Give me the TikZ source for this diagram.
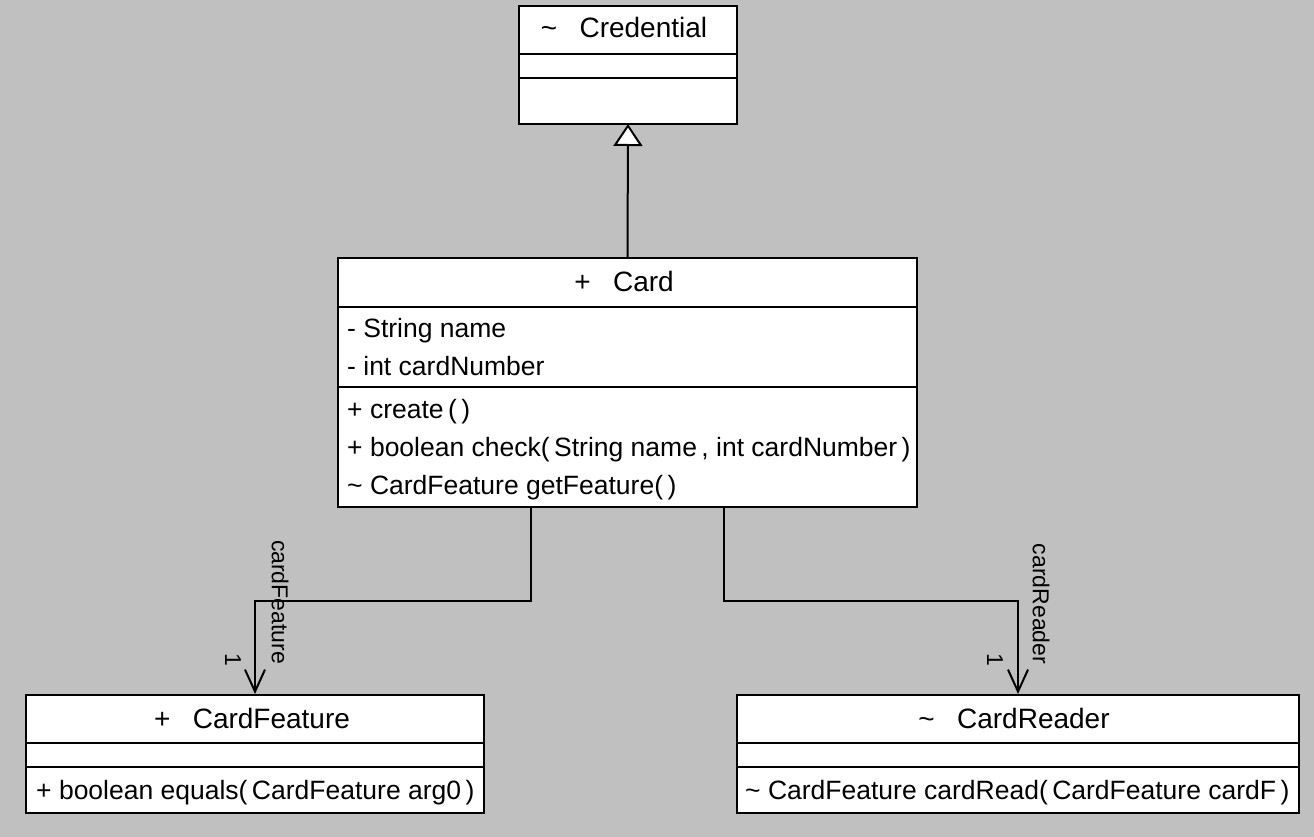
\documentclass[tikz,border=0pt]{standalone}
\usepackage{fontspec}
\setmainfont{Liberation Sans}
\usetikzlibrary{arrows.meta}
\definecolor{canvas}{RGB}{192,192,192}

\begin{document}
\begin{tikzpicture}[x=1pt, y=-1pt]
    % Define styles
    \tikzstyle{classbox}=[draw, line width=2pt, fill=white, inner sep=0pt]
    \tikzstyle{divider}=[line width=2pt]
    \tikzstyle{classname}=[inner sep=0pt, anchor=base, font=\fontsize{28}{32}\selectfont]
    \tikzstyle{member}=[inner sep=0pt, anchor=base west, font=\fontsize{26.5}{30}\selectfont]
    \tikzstyle{role}=[inner sep=0pt, rotate=-90, font=\fontsize{23}{27}\selectfont]
    \tikzstyle{assoc}=[line width=2pt, -{Straight Barb[length=22pt, width=20pt]}]
    \tikzstyle{inherit}=[line width=2pt, -{Triangle[length=22pt, width=29pt, fill=white]}, shorten >=-1pt]

    % Background
    \fill[canvas] (0,0) rectangle (1314,837);
    \useasboundingbox (0,0) rectangle (1314,837);

    % Credential
    \node[classbox, minimum width=218pt, minimum height=118pt] (credential) at (628,65) {};
    \draw[divider] (credential.west |- 0,54) -- (credential.east |- 0,54);
    \draw[divider] (credential.west |- 0,78) -- (credential.east |- 0,78);
    \node[classname] (credential_name) at (624,38) {\textasciitilde\hspace{0.8em}Credential};

    % Card
    \node[classbox, minimum width=579pt, minimum height=249pt] (card) at (627.5,382.5) {};
    \draw[divider] (card.west |- 0,307) -- (card.east |- 0,307);
    \draw[divider] (card.west |- 0,387) -- (card.east |- 0,387);
    \node[classname] (card_name) at (624,291) {+\hspace{0.8em}Card};
    \node[member] (card_attr1) at (347,337) {- String name};
    \node[member] (card_attr2) at (347,375) {- int cardNumber};
    \node[member] (card_op1) at (347,418) {+ create\,(\,)};
    \node[member] (card_op2) at (347,456) {+ boolean check(\,String name\,, int cardNumber\,)};
    \node[member] (card_op3) at (347,494) {\textasciitilde{} CardFeature getFeature(\,)};

    % CardFeature
    \node[classbox, minimum width=458pt, minimum height=118pt] (cardfeature) at (255,754) {};
    \draw[divider] (cardfeature.west |- 0,743) -- (cardfeature.east |- 0,743);
    \draw[divider] (cardfeature.west |- 0,767) -- (cardfeature.east |- 0,767);
    \node[classname] (cardfeature_name) at (252,728) {+\hspace{0.8em}CardFeature};
    \node[member] (cardfeature_op1) at (36,799) {+ boolean equals(\,CardFeature arg0\,)};

    % CardReader
    \node[classbox, minimum width=562pt, minimum height=118pt] (cardreader) at (1018,754) {};
    \draw[divider] (cardreader.west |- 0,743) -- (cardreader.east |- 0,743);
    \draw[divider] (cardreader.west |- 0,767) -- (cardreader.east |- 0,767);
    \node[classname] (cardreader_name) at (1014,728) {\textasciitilde\hspace{0.8em}CardReader};
    \node[member] (cardreader_op1) at (745,799) {\textasciitilde{} CardFeature cardRead(\,CardFeature cardF\,)};

    % Generalization Card -> Credential
    \draw[inherit] (card.north) -- (credential.south);

    % Associations
    \draw[assoc] (card.south -| 531,0) -- ++(0,93) -| (cardfeature.north);
    \node[role] (cardfeature_role) at (280,602) {cardFeature};
    \node[role] (cardfeature_mult) at (233,660) {1};

    \draw[assoc] (card.south -| 724,0) -- ++(0,93) -| (cardreader.north);
    \node[role] (cardreader_role) at (1041,604) {cardReader};
    \node[role] (cardreader_mult) at (995,660) {1};
\end{tikzpicture}
\end{document}
